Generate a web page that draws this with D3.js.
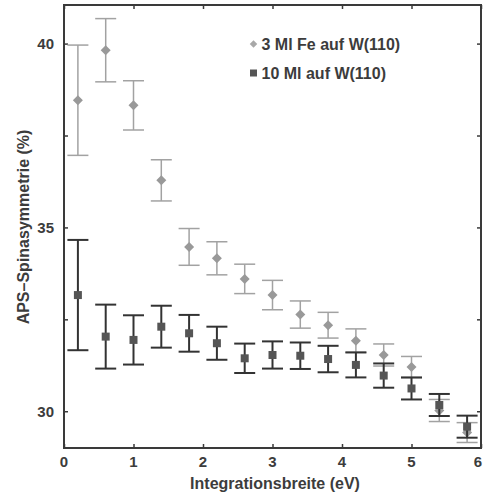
<!DOCTYPE html>
<html>
<head>
<meta charset="utf-8">
<script src="https://cdn.jsdelivr.net/npm/d3@7"></script>
<style>
  html, body { margin: 0; padding: 0; background: #fff; }
  svg { display: block; }
  text { font-family: "Liberation Sans", Arial, sans-serif; font-weight: bold; fill: #3c3c3c; }
</style>
</head>
<body>
<svg id="chart" width="483" height="496"></svg>
<script>
// Integration width (eV) for each measurement
const widths = [0.2, 0.6, 1.0, 1.4, 1.8, 2.2, 2.6, 3.0, 3.4, 3.8, 4.2, 4.6, 5.0, 5.4, 5.8];

// 3 ML Fe on W(110): spin asymmetry (%) and its uncertainty
const fe3Values = [38.46, 39.82, 38.32, 36.28, 34.47, 34.16, 33.60, 33.16, 32.63, 32.34, 31.92, 31.53, 31.20, 30.02, 29.42];
const fe3Errors = [1.50, 0.86, 0.67, 0.56, 0.50, 0.45, 0.40, 0.40, 0.37, 0.35, 0.32, 0.30, 0.29, 0.30, 0.27];

// 10 ML on W(110): spin asymmetry (%) and its uncertainty
const fe10Values = [33.16, 32.03, 31.94, 32.30, 32.12, 31.85, 31.44, 31.53, 31.51, 31.42, 31.26, 30.97, 30.62, 30.17, 29.58];
const fe10Errors = [1.50, 0.87, 0.67, 0.57, 0.50, 0.45, 0.40, 0.37, 0.36, 0.36, 0.34, 0.33, 0.30, 0.30, 0.30];

const xTicks = [0, 1, 2, 3, 4, 5, 6];
const yLabelTicks = [30, 35, 40];
const yAllTicks = [30, 32.5, 35, 37.5, 40];
const legendLabels = ["3 Ml Fe auf W(110)", "10 Ml auf W(110)"];
const xTitle = "Integrationsbreite (eV)";
const yTitle = "APS\u2013Spinasymmetrie (%)";

const W = 483, H = 496;
const svg = d3.select("#chart");
const plotLeft = 64, plotRight = 481, plotTop = 5, plotBottom = 448;

const x = d3.scaleLinear().domain([0, 6]).range([plotLeft, plotRight]);
const y = d3.scaleLinear().domain([29, 41.05]).range([plotBottom, plotTop]);

const axisColor = "#3a3a3a";

// Tick marks pointing into the frame on all four sides
const g = svg.append("g");
g.append("g").attr("transform", `translate(0,${plotBottom})`)
  .call(d3.axisBottom(x).tickValues(xTicks).tickSizeInner(-4).tickSizeOuter(0).tickFormat(""))
  .call(s => s.select(".domain").remove());
g.append("g").attr("transform", `translate(0,${plotTop})`)
  .call(d3.axisTop(x).tickValues(xTicks).tickSizeInner(-4).tickSizeOuter(0).tickFormat(""))
  .call(s => s.select(".domain").remove());
g.append("g").attr("transform", `translate(${plotLeft},0)`)
  .call(d3.axisLeft(y).tickValues(yAllTicks).tickSizeInner(-4).tickSizeOuter(0).tickFormat(""))
  .call(s => s.select(".domain").remove());
g.append("g").attr("transform", `translate(${plotRight},0)`)
  .call(d3.axisRight(y).tickValues(yAllTicks).tickSizeInner(-4).tickSizeOuter(0).tickFormat(""))
  .call(s => s.select(".domain").remove());
g.selectAll(".tick line").attr("stroke", axisColor).attr("stroke-width", 1.5);

// Tick labels (the last one is kept inside the canvas edge)
svg.append("g").selectAll("text").data(xTicks).join("text")
  .attr("x", d => d === 6 ? W - 1 : x(d)).attr("y", plotBottom + 19)
  .attr("text-anchor", d => d === 6 ? "end" : "middle")
  .attr("font-size", 15).text(d => d);
svg.append("g").selectAll("text").data(yLabelTicks).join("text")
  .attr("x", plotLeft - 10).attr("y", d => y(d) + 5.5)
  .attr("text-anchor", "end").attr("font-size", 15).text(d => d);

// Frame
svg.append("rect")
  .attr("x", plotLeft).attr("y", plotTop).attr("width", plotRight - plotLeft).attr("height", plotBottom - plotTop)
  .attr("fill", "none").attr("stroke", axisColor).attr("stroke-width", 2);

// Axis titles
svg.append("text").attr("x", 275).attr("y", 489)
  .attr("text-anchor", "middle").attr("font-size", 16).text(xTitle);
svg.append("text").attr("transform", `translate(28.5,227) rotate(-90)`)
  .attr("text-anchor", "middle").attr("font-size", 16).text(yTitle);

const capHalf = 10.5;

// Diamonds are squares turned by 45 degrees
function markPath(shape, size) {
  return d3.symbol().type(shape === "diamond" ? d3.symbolSquare : d3.symbolSquare).size(size)();
}
function markTransform(shape, px, py) {
  return shape === "diamond" ? `translate(${px},${py}) rotate(45)` : `translate(${px},${py})`;
}

function drawSeries(values, errors, barColor, barWidth, markColor, shape, size) {
  const data = widths.map((w, i) => ({ w, v: values[i], e: errors[i] }));
  const grp = svg.append("g");
  const bars = grp.selectAll("g.err").data(data).join("g").attr("class", "err")
    .attr("stroke", barColor).attr("stroke-width", barWidth);
  bars.append("line")
    .attr("x1", d => x(d.w)).attr("x2", d => x(d.w))
    .attr("y1", d => y(d.v + d.e)).attr("y2", d => y(d.v - d.e));
  bars.append("line")
    .attr("x1", d => x(d.w) - capHalf).attr("x2", d => x(d.w) + capHalf)
    .attr("y1", d => y(d.v + d.e)).attr("y2", d => y(d.v + d.e));
  bars.append("line")
    .attr("x1", d => x(d.w) - capHalf).attr("x2", d => x(d.w) + capHalf)
    .attr("y1", d => y(d.v - d.e)).attr("y2", d => y(d.v - d.e));
  grp.selectAll("path.mark").data(data).join("path").attr("class", "mark")
    .attr("d", markPath(shape, size))
    .attr("transform", d => markTransform(shape, x(d.w), y(d.v)))
    .attr("fill", markColor);
}

// Light series first, dark series drawn on top
drawSeries(fe3Values, fe3Errors, "#a2a2a2", 1.5, "#999999", "diamond", 50);
drawSeries(fe10Values, fe10Errors, "#333333", 2, "#555555", "square", 64);

// Legend
const legend = svg.append("g");
const legendItems = [
  { label: legendLabels[0], shape: "diamond", color: "#a8a8a8", size: 28, y: 44 },
  { label: legendLabels[1], shape: "square", color: "#555555", size: 49, y: 73 }
];
legend.selectAll("path").data(legendItems).join("path")
  .attr("d", d => markPath(d.shape, d.size))
  .attr("transform", d => markTransform(d.shape, 253.5, d.y))
  .attr("fill", d => d.color);
legend.selectAll("text").data(legendItems).join("text")
  .attr("x", 261.5).attr("y", d => d.y + 5.5)
  .attr("font-size", 16).text(d => d.label);
</script>
</body>
</html>
